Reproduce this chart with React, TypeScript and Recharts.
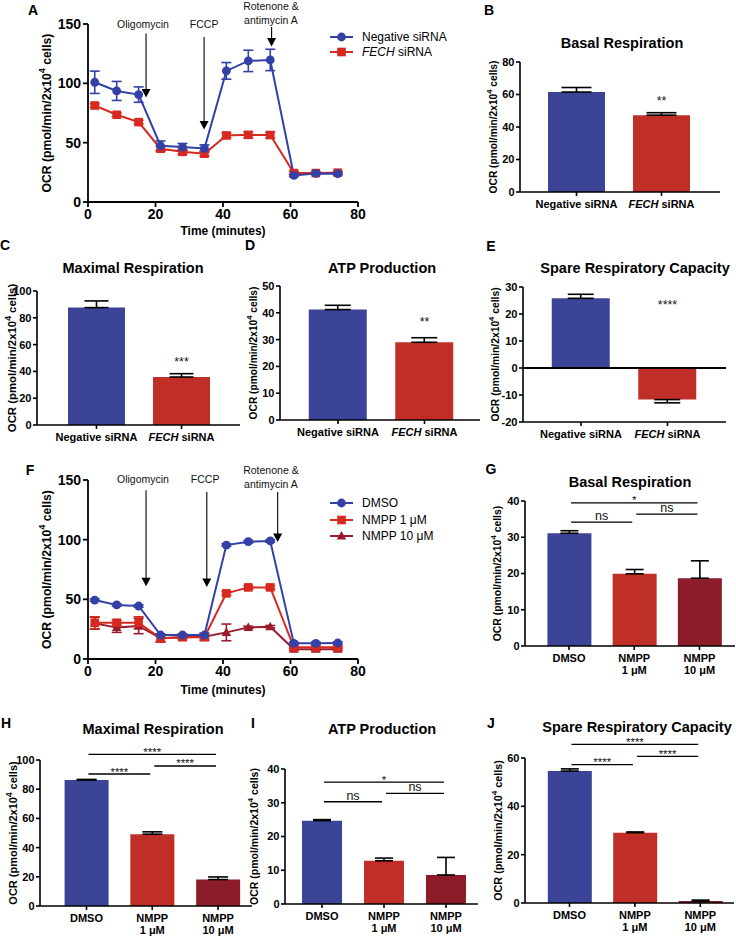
import React from "react";
import {
  LineChart,
  Line,
  BarChart,
  Bar,
  Cell,
  XAxis,
  YAxis,
  ErrorBar,
  ReferenceLine,
  ReferenceDot,
  Legend,
} from "recharts";

const FONT = '"Liberation Sans", Arial, Helvetica, sans-serif';

const BLUE = "#3340a6";
const RED = "#d7291f";
const MAROON = "#9a1c2c";
const BLUE_BAR = "#3b4496";
const RED_BAR = "#c02f27";
const MAROON_BAR = "#8d1c2b";

// Seahorse run time points (minutes)
const minutes = [2, 8.5, 15, 21.5, 28, 34.5, 41, 47.5, 54, 61, 67.5, 74];

// A: siRNA knockdown
const negSiRNA = [100.9, 93.6, 90.5, 47.4, 46.3, 45.1, 110.5, 118.9, 119.7, 22.4, 24.1, 23.8];
const negSiRNAErr = [9.4, 8, 6.5, 4, 3, 3, 7, 9, 9, 1, 1, 1];
const fechSiRNA = [81.3, 73.5, 67.3, 44.9, 42.3, 40.7, 56.1, 56.6, 56.4, 24.4, 24.4, 24.7];
const fechSiRNAErr = [1.5, 1.5, 1.5, 2, 2, 2, 2, 2.5, 2.5, 1.5, 1, 1];

// F: NMPP treatment
const dmso = [49.4, 45.3, 44.4, 20.1, 20.1, 20.1, 95.5, 98.3, 98.9, 13.1, 13.1, 13.4];
const dmsoErr = [1, 1, 1, 1, 1, 1, 1, 1, 1, 1, 1, 1];
const nmpp1 = [30.4, 30.4, 30.4, 17.3, 18.2, 18.2, 55, 60, 60, 9.8, 9.8, 9.8];
const nmpp1Err = [5, 2, 5, 3, 1, 1, 1.5, 1.5, 1.5, 1, 1, 1];
const nmpp10 = [30, 26.3, 27.7, 17.3, 18.2, 18.7, 22.3, 26.5, 27.1, 8.1, 8.1, 8.1];
const nmpp10Err = [5, 4, 6.5, 3, 1, 3, 7, 1, 1, 1, 1, 1];

// injections (arrow time, arrow top / tip in OCR units, label anchor)
const injections = ["Oligomycin", "FCCP", "Rotenone &\nantimycin A"];
const injTimeA = [17.2, 34.4, 54.4];
const injFromA = [142, 139, 147.5];
const injToA = [88, 61, 131];
const injLabelXA = [16.3, 34.4, 54.2];
const injLabelYA = [150, 150, 153.4];
const injTimeF = [17.2, 35.2, 56.2];
const injFromF = [141.5, 140, 140];
const injToF = [61, 60.3, 98];
const injLabelXF = [16.3, 34.7, 54.2];
const injLabelYF = [150.8, 150.8, 146.7];

// bar panels
const siCats = ["Negative siRNA", "FECH siRNA"];
const nmppCats = ["DMSO", "NMPP 1 μM", "NMPP 10 μM"];

const basalSi = [61.5, 47.3];
const basalSiErr = [2.8, 1.5];
const maximalSi = [87.6, 35.8];
const maximalSiErr = [5, 2.5];
const atpSi = [41.2, 29];
const atpSiErr = [1.6, 1.7];
const spareSi = [25.8, -11.7];
const spareSiErr = [1.5, 1.2];

const basalN = [31.1, 19.9, 18.7];
const basalNErr = [0.7, 1.2, 4.8];
const maximalN = [86.3, 49.2, 18.1];
const maximalNErr = [0.4, 1.6, 1.8];
const atpN = [24.7, 12.8, 8.6];
const atpNErr = [0.3, 0.8, 5.2];
const spareN = [54.6, 29.1, 0.8];
const spareNErr = [0.9, 0.3, 0.4];

// significance brackets: pairs of categories, text and height
const sigPairs = [
  [0, 2],
  [0, 1],
  [1, 2],
];
const sigBasal = ["*", "ns", "ns"];
const sigBasalY = [39.5, 34.2, 36.4];
const sigMaximal = ["****", "****", "****"];
const sigMaximalY = [103.9, 90.4, 95.9];
const sigAtp = ["*", "ns", "ns"];
const sigAtpY = [36.1, 30.3, 32.8];
const sigSpare = ["****", "****", "****"];
const sigSpareY = [65.6, 57.3, 60.7];

const siStars = ["**", "***", "**", "****"];
const siStarY = [56.5, 47.2, 36.9, 23.6];

const rowsA = minutes.map((t, i) => ({
  t,
  neg: negSiRNA[i],
  negErr: negSiRNAErr[i],
  fech: fechSiRNA[i],
  fechErr: fechSiRNAErr[i],
}));

const rowsF = minutes.map((t, i) => ({
  t,
  dmso: dmso[i],
  dmsoErr: dmsoErr[i],
  n1: nmpp1[i],
  n1Err: nmpp1Err[i],
  n10: nmpp10[i],
  n10Err: nmpp10Err[i],
}));

type Shape = "circle" | "square" | "triangle";
type Series = { key: string; errKey: string; name: string; color: string; shape: Shape };

const seriesA: Series[] = [
  { key: "neg", errKey: "negErr", name: "Negative siRNA", color: BLUE, shape: "circle" },
  { key: "fech", errKey: "fechErr", name: "FECH siRNA", color: RED, shape: "square" },
];
const seriesF: Series[] = [
  { key: "dmso", errKey: "dmsoErr", name: "DMSO", color: BLUE, shape: "circle" },
  { key: "n1", errKey: "n1Err", name: "NMPP 1 μM", color: RED, shape: "square" },
  { key: "n10", errKey: "n10Err", name: "NMPP 10 μM", color: MAROON, shape: "triangle" },
];

function Name({ text }: { text: string }) {
  if (text.startsWith("FECH ")) {
    return (
      <>
        <tspan fontStyle="italic">FECH</tspan>
        {text.slice(4)}
      </>
    );
  }
  return <>{text}</>;
}

function Marker({ cx, cy, shape, color }: { cx: number; cy: number; shape: Shape; color: string }) {
  if (shape === "square") {
    return <rect x={cx - 4.3} y={cy - 4.3} width={8.6} height={8.6} fill={color} />;
  }
  if (shape === "triangle") {
    return <polygon points={`${cx},${cy - 5} ${cx + 4.8},${cy + 3.5} ${cx - 4.8},${cy + 3.5}`} fill={color} />;
  }
  return <circle cx={cx} cy={cy} r={4.4} fill={color} />;
}

function OcrLabel({ x, y, size }: { x: number; y: number; size: number }) {
  return (
    <text
      x={x}
      y={y}
      transform={`rotate(-90 ${x} ${y})`}
      textAnchor="middle"
      dominantBaseline="central"
      fontFamily={FONT}
      fontWeight={700}
      fontSize={size}
      fill="#000"
    >
      OCR (pmol/min/2x10
      <tspan dy={-size * 0.38} fontSize={size * 0.75}>
        4
      </tspan>
      <tspan dy={size * 0.38}> cells)</tspan>
    </text>
  );
}

function InjectionArrow(p: any) {
  const { x1, y1, x2, y2 } = p;
  return (
    <g>
      <line x1={x1} y1={y1} x2={x2} y2={y2 - 7} stroke="#000" strokeWidth={1.1} />
      <polygon points={`${x2 - 4.5},${y2 - 8.5} ${x2 + 4.5},${y2 - 8.5} ${x2},${y2}`} fill="#000" />
    </g>
  );
}

function InjectionText({ viewBox, text }: any) {
  const cx = viewBox.x + (viewBox.width || 0) / 2;
  const cy = viewBox.y + (viewBox.height || 0) / 2;
  const lines: string[] = text.split("\n");
  return (
    <text textAnchor="middle" dominantBaseline="central" fontFamily={FONT} fontSize={10.5} fill="#111">
      {lines.map((l, i) => (
        <tspan key={i} x={cx} y={cy - (lines.length - 1 - i) * 14}>
          {l}
        </tspan>
      ))}
    </text>
  );
}

function LegendBox({ series, rowH }: { series: Series[]; rowH: number }) {
  return (
    <div style={{ fontFamily: FONT, fontSize: 12, color: "#000" }}>
      {series.map((s) => (
        <div key={s.key} style={{ display: "flex", alignItems: "center", height: rowH }}>
          <svg width={28} height={12} style={{ display: "block" }}>
            <line x1={0} y1={6} x2={23} y2={6} stroke={s.color} strokeWidth={2} />
            <Marker cx={11.5} cy={6} shape={s.shape} color={s.color} />
          </svg>
          <span style={{ marginLeft: 4, whiteSpace: "nowrap" }}>
            {s.name.startsWith("FECH ") ? (
              <>
                <i>FECH</i>
                {s.name.slice(4)}
              </>
            ) : (
              s.name
            )}
          </span>
        </div>
      ))}
    </div>
  );
}

type LineProps = {
  top: number;
  plotH: number;
  data: any[];
  series: Series[];
  injTime: number[];
  injFrom: number[];
  injTo: number[];
  labelX: number[];
  labelY: number[];
  legendTop: number;
  legendRow: number;
  timeDy: number;
};

function TimeCourse(props: LineProps) {
  const { top, plotH, data, series } = props;
  const mt = 24;
  const yw = 88;
  const xh = 40;
  const mr = 130;
  const axis = { stroke: "#000", strokeWidth: 1.8 };
  const tick = { fill: "#000", fontSize: 14, fontWeight: 700, fontFamily: FONT };
  return (
    <div style={{ position: "absolute", left: 0, top }}>
      <LineChart
        width={yw + 270 + mr}
        height={mt + plotH + xh}
        data={data}
        margin={{ top: mt, right: mr, bottom: 0, left: 0 }}
      >
        <XAxis
          dataKey="t"
          type="number"
          domain={[0, 80]}
          ticks={[0, 20, 40, 60, 80]}
          interval={0}
          height={xh}
          axisLine={axis}
          tickLine={axis}
          tickSize={5}
          tickMargin={2}
          tick={tick}
          label={(lp: any) => (
            <text
              x={lp.viewBox.x + lp.viewBox.width / 2}
              y={lp.viewBox.y + props.timeDy}
              textAnchor="middle"
              dominantBaseline="central"
              fontFamily={FONT}
              fontWeight={700}
              fontSize={12}
              fill="#000"
            >
              Time (minutes)
            </text>
          )}
        />
        <YAxis
          type="number"
          domain={[0, 150]}
          ticks={[0, 50, 100, 150]}
          width={yw}
          axisLine={axis}
          tickLine={axis}
          tickSize={5}
          tickMargin={2}
          tick={tick}
          label={() => <OcrLabel x={47} y={mt + plotH / 2} size={12.2} />}
        />
        {injections.map((name, i) => (
          <ReferenceLine
            key={"arrow" + i}
            segment={[
              { x: props.injTime[i], y: props.injFrom[i] },
              { x: props.injTime[i], y: props.injTo[i] },
            ]}
            ifOverflow="visible"
            shape={InjectionArrow}
          />
        ))}
        {injections.map((name, i) => (
          <ReferenceDot
            key={"lab" + i}
            x={props.labelX[i]}
            y={props.labelY[i]}
            r={0}
            stroke="none"
            ifOverflow="visible"
            label={(lp: any) => <InjectionText viewBox={lp.viewBox} text={name} />}
          />
        ))}
        {[...series].reverse().map((s) => (
          <Line
            key={s.key}
            dataKey={s.key}
            name={s.name}
            stroke={s.color}
            strokeWidth={2}
            isAnimationActive={false}
            dot={(dp: any) => <Marker key={dp.index} cx={dp.cx} cy={dp.cy} shape={s.shape} color={s.color} />}
            activeDot={false}
          >
            <ErrorBar dataKey={s.errKey} width={5} stroke={s.color} strokeWidth={1.6} direction="y" isAnimationActive={false} />
          </Line>
        ))}
        <Legend
          layout="vertical"
          align="center"
          verticalAlign="middle"
          wrapperStyle={{ left: 330, top: props.legendTop, width: 150 }}
          content={() => <LegendBox series={series} rowH={props.legendRow} />}
        />
      </LineChart>
    </div>
  );
}

function CategoryTick(props: any) {
  const { x, y, payload } = props;
  const value: string = payload.value;
  const lines = value.startsWith("NMPP ") ? ["NMPP", value.slice(5)] : [value];
  return (
    <text x={x} y={y} textAnchor="middle" fontFamily={FONT} fontWeight={700} fontSize={11} fill="#000">
      {lines.map((l, i) => (
        <tspan key={i} x={x} dy={i === 0 ? 8.5 : 12.5}>
          <Name text={l} />
        </tspan>
      ))}
    </text>
  );
}

function SigLine(p: any) {
  return <line x1={p.x1 + 2} y1={p.y1} x2={p.x2 - 2} y2={p.y2} stroke="#000" strokeWidth={1.3} />;
}

type BarProps = {
  x0: number;
  x1: number;
  y0: number;
  y1: number;
  domain: [number, number];
  ticks: number[];
  cats: string[];
  values: number[];
  errs: number[];
  colors: string[];
  padL: number;
  padR: number;
  barSize: number;
  capW: number;
  labelX: number;
  labelSize: number;
  zeroLine?: boolean;
  star?: string;
  starY?: number;
  sig?: string[];
  sigY?: number[];
};

function BarPanel(p: BarProps) {
  const yw = 52;
  const mt = 34;
  const mr = 4;
  const xh = 38;
  const plotH = p.y1 - p.y0;
  const rows = p.cats.map((c, i) => ({
    name: c,
    value: p.values[i],
    err: p.values[i] >= 0 ? [0, p.errs[i]] : [p.errs[i], 0],
  }));
  const axis = { stroke: "#000", strokeWidth: 1.6 };
  const tick = { fill: "#000", fontSize: 11, fontWeight: 700, fontFamily: FONT };
  const chartLeft = p.x0 - yw;
  return (
    <div style={{ position: "absolute", left: chartLeft, top: p.y0 - mt }}>
      <BarChart
        width={yw + (p.x1 - p.x0) + mr}
        height={mt + plotH + xh}
        data={rows}
        margin={{ top: mt, right: mr, bottom: 0, left: 0 }}
        barGap={-p.barSize}
      >
        <XAxis
          dataKey="name"
          type="category"
          interval={0}
          height={xh}
          padding={{ left: p.padL, right: p.padR }}
          axisLine={axis}
          tickLine={axis}
          tickSize={4}
          tickMargin={3}
          tick={(tp: any) => <CategoryTick {...tp} />}
        />
        <YAxis
          type="number"
          domain={p.domain}
          ticks={p.ticks}
          width={yw}
          axisLine={axis}
          tickLine={axis}
          tickSize={4}
          tickMargin={1.5}
          tick={tick}
          label={() => <OcrLabel x={p.labelX - chartLeft} y={mt + plotH / 2} size={p.labelSize} />}
        />
        <Bar dataKey="value" fill="none" barSize={p.barSize} isAnimationActive={false}>
          <ErrorBar dataKey="err" width={p.capW} stroke="#000" strokeWidth={1.6} direction="y" isAnimationActive={false} />
        </Bar>
        <Bar dataKey="value" barSize={p.barSize} isAnimationActive={false}>
          {rows.map((r, i) => (
            <Cell key={r.name} fill={p.colors[i]} />
          ))}
        </Bar>
        {p.zeroLine && <ReferenceLine y={0} stroke="#000" strokeWidth={1.8} />}
        {p.star && (
          <ReferenceDot
            x={p.cats[1]}
            y={p.starY}
            r={0}
            stroke="none"
            ifOverflow="visible"
            label={{ value: p.star, position: "center", fontSize: 12.5, fill: "#111", fontFamily: FONT }}
          />
        )}
        {p.sig &&
          p.sig.map((s, i) => (
            <ReferenceLine
              key={"sig" + i}
              segment={[
                { x: p.cats[sigPairs[i][0]], y: p.sigY![i] },
                { x: p.cats[sigPairs[i][1]], y: p.sigY![i] },
              ]}
              ifOverflow="visible"
              shape={SigLine}
              label={{
                value: s,
                position: "top",
                offset: s === "ns" ? 2 : -1.5,
                fontSize: s === "ns" ? 12.5 : 11.5,
                fill: "#111",
                fontFamily: FONT,
              }}
            />
          ))}
      </BarChart>
    </div>
  );
}

function Title({ x, y, text }: { x: number; y: number; text: string }) {
  return (
    <div
      style={{
        position: "absolute",
        left: x,
        top: y,
        transform: "translate(-50%, -50%)",
        fontWeight: 700,
        fontSize: 14.5,
        lineHeight: 1,
        whiteSpace: "nowrap",
      }}
    >
      {text}
    </div>
  );
}

function Letter({ x, y, text }: { x: number; y: number; text: string }) {
  return (
    <div
      style={{
        position: "absolute",
        left: x,
        top: y,
        transform: "translate(-50%, -50%)",
        fontWeight: 700,
        fontSize: 14,
        lineHeight: 1,
      }}
    >
      {text}
    </div>
  );
}

const siColors = [BLUE_BAR, RED_BAR];
const nColors = [BLUE_BAR, RED_BAR, MAROON_BAR];

export default function App() {
  return (
    <div
      style={{
        position: "absolute",
        left: 0,
        top: 0,
        width: 736,
        height: 939,
        background: "#fff",
        fontFamily: FONT,
        color: "#000",
        overflow: "hidden",
      }}
    >
      <TimeCourse
        top={0}
        plotH={178}
        data={rowsA}
        series={seriesA}
        injTime={injTimeA}
        injFrom={injFromA}
        injTo={injToA}
        labelX={injLabelXA}
        labelY={injLabelYA}
        legendTop={29.5}
        legendRow={15}
        timeDy={29}
      />
      <TimeCourse
        top={456}
        plotH={179}
        data={rowsF}
        series={seriesF}
        injTime={injTimeF}
        injFrom={injFromF}
        injTo={injToF}
        labelX={injLabelXF}
        labelY={injLabelYF}
        legendTop={38.75}
        legendRow={16.5}
        timeDy={31}
      />

      <BarPanel
        x0={520} x1={720} y0={62} y1={192}
        domain={[0, 80]} ticks={[0, 20, 40, 60, 80]}
        cats={siCats} values={basalSi} errs={basalSiErr} colors={siColors}
        padL={14} padR={16} barSize={57} capW={15}
        labelX={493} labelSize={10.2}
        star={siStars[0]} starY={siStarY[0]}
      />
      <BarPanel
        x0={37} x1={240} y0={291} y1={425}
        domain={[0, 100]} ticks={[0, 20, 40, 60, 80, 100]}
        cats={siCats} values={maximalSi} errs={maximalSiErr} colors={siColors}
        padL={17} padR={16} barSize={57} capW={12}
        labelX={12} labelSize={11.4}
        star={siStars[1]} starY={siStarY[1]}
      />
      <BarPanel
        x0={280} x1={480} y0={286} y1={420}
        domain={[0, 50]} ticks={[0, 10, 20, 30, 40, 50]}
        cats={siCats} values={atpSi} errs={atpSiErr} colors={siColors}
        padL={14.75} padR={12.25} barSize={58} capW={13}
        labelX={253} labelSize={10.2}
        star={siStars[2]} starY={siStarY[2]}
      />
      <BarPanel
        x0={523} x1={726} y0={287} y1={422}
        domain={[-20, 30]} ticks={[-20, -10, 0, 10, 20, 30]}
        cats={siCats} values={spareSi} errs={spareSiErr} colors={siColors}
        padL={14.75} padR={15.25} barSize={58} capW={13}
        labelX={495} labelSize={10.3} zeroLine
        star={siStars[3]} starY={siStarY[3]}
      />

      <BarPanel
        x0={525} x1={735} y0={501} y1={646}
        domain={[0, 40]} ticks={[0, 10, 20, 30, 40]}
        cats={nmppCats} values={basalN} errs={basalNErr} colors={nColors}
        padL={11.4} padR={2.9} barSize={44} capW={9}
        labelX={497} labelSize={10.4}
        sig={sigBasal} sigY={sigBasalY}
      />
      <BarPanel
        x0={40} x1={252} y0={760} y1={906}
        domain={[0, 100]} ticks={[0, 20, 40, 60, 80, 100]}
        cats={nmppCats} values={maximalN} errs={maximalNErr} colors={nColors}
        padL={13.6} padR={1.1} barSize={44} capW={10}
        labelX={13} labelSize={11}
        sig={sigMaximal} sigY={sigMaximalY}
      />
      <BarPanel
        x0={285} x1={478} y0={769} y1={904}
        domain={[0, 40]} ticks={[0, 10, 20, 30, 40]}
        cats={nmppCats} values={atpN} errs={atpNErr} colors={nColors}
        padL={6} padR={1} barSize={40} capW={9}
        labelX={254} labelSize={10.5}
        sig={sigAtp} sigY={sigAtpY}
      />
      <BarPanel
        x0={525} x1={734} y0={758} y1={903}
        domain={[0, 60]} ticks={[0, 20, 40, 60]}
        cats={nmppCats} values={spareN} errs={spareNErr} colors={nColors}
        padL={11.8} padR={1} barSize={44} capW={9}
        labelX={498} labelSize={10.8}
        sig={sigSpare} sigY={sigSpareY}
      />

      <Title x={622} y={43} text="Basal Respiration" />
      <Title x={133} y={268} text="Maximal Respiration" />
      <Title x={382} y={268} text="ATP Production" />
      <Title x={635} y={268} text="Spare Respiratory Capacity" />
      <Title x={630} y={482} text="Basal Respiration" />
      <Title x={153} y={729} text="Maximal Respiration" />
      <Title x={382} y={729} text="ATP Production" />
      <Title x={637} y={727} text="Spare Respiratory Capacity" />

      <Letter x={33} y={10} text="A" />
      <Letter x={489} y={10} text="B" />
      <Letter x={5} y={245} text="C" />
      <Letter x={250} y={245} text="D" />
      <Letter x={491} y={246} text="E" />
      <Letter x={30} y={470} text="F" />
      <Letter x={491} y={469} text="G" />
      <Letter x={6} y={723} text="H" />
      <Letter x={253} y={723} text="I" />
      <Letter x={491} y={723} text="J" />
    </div>
  );
}
